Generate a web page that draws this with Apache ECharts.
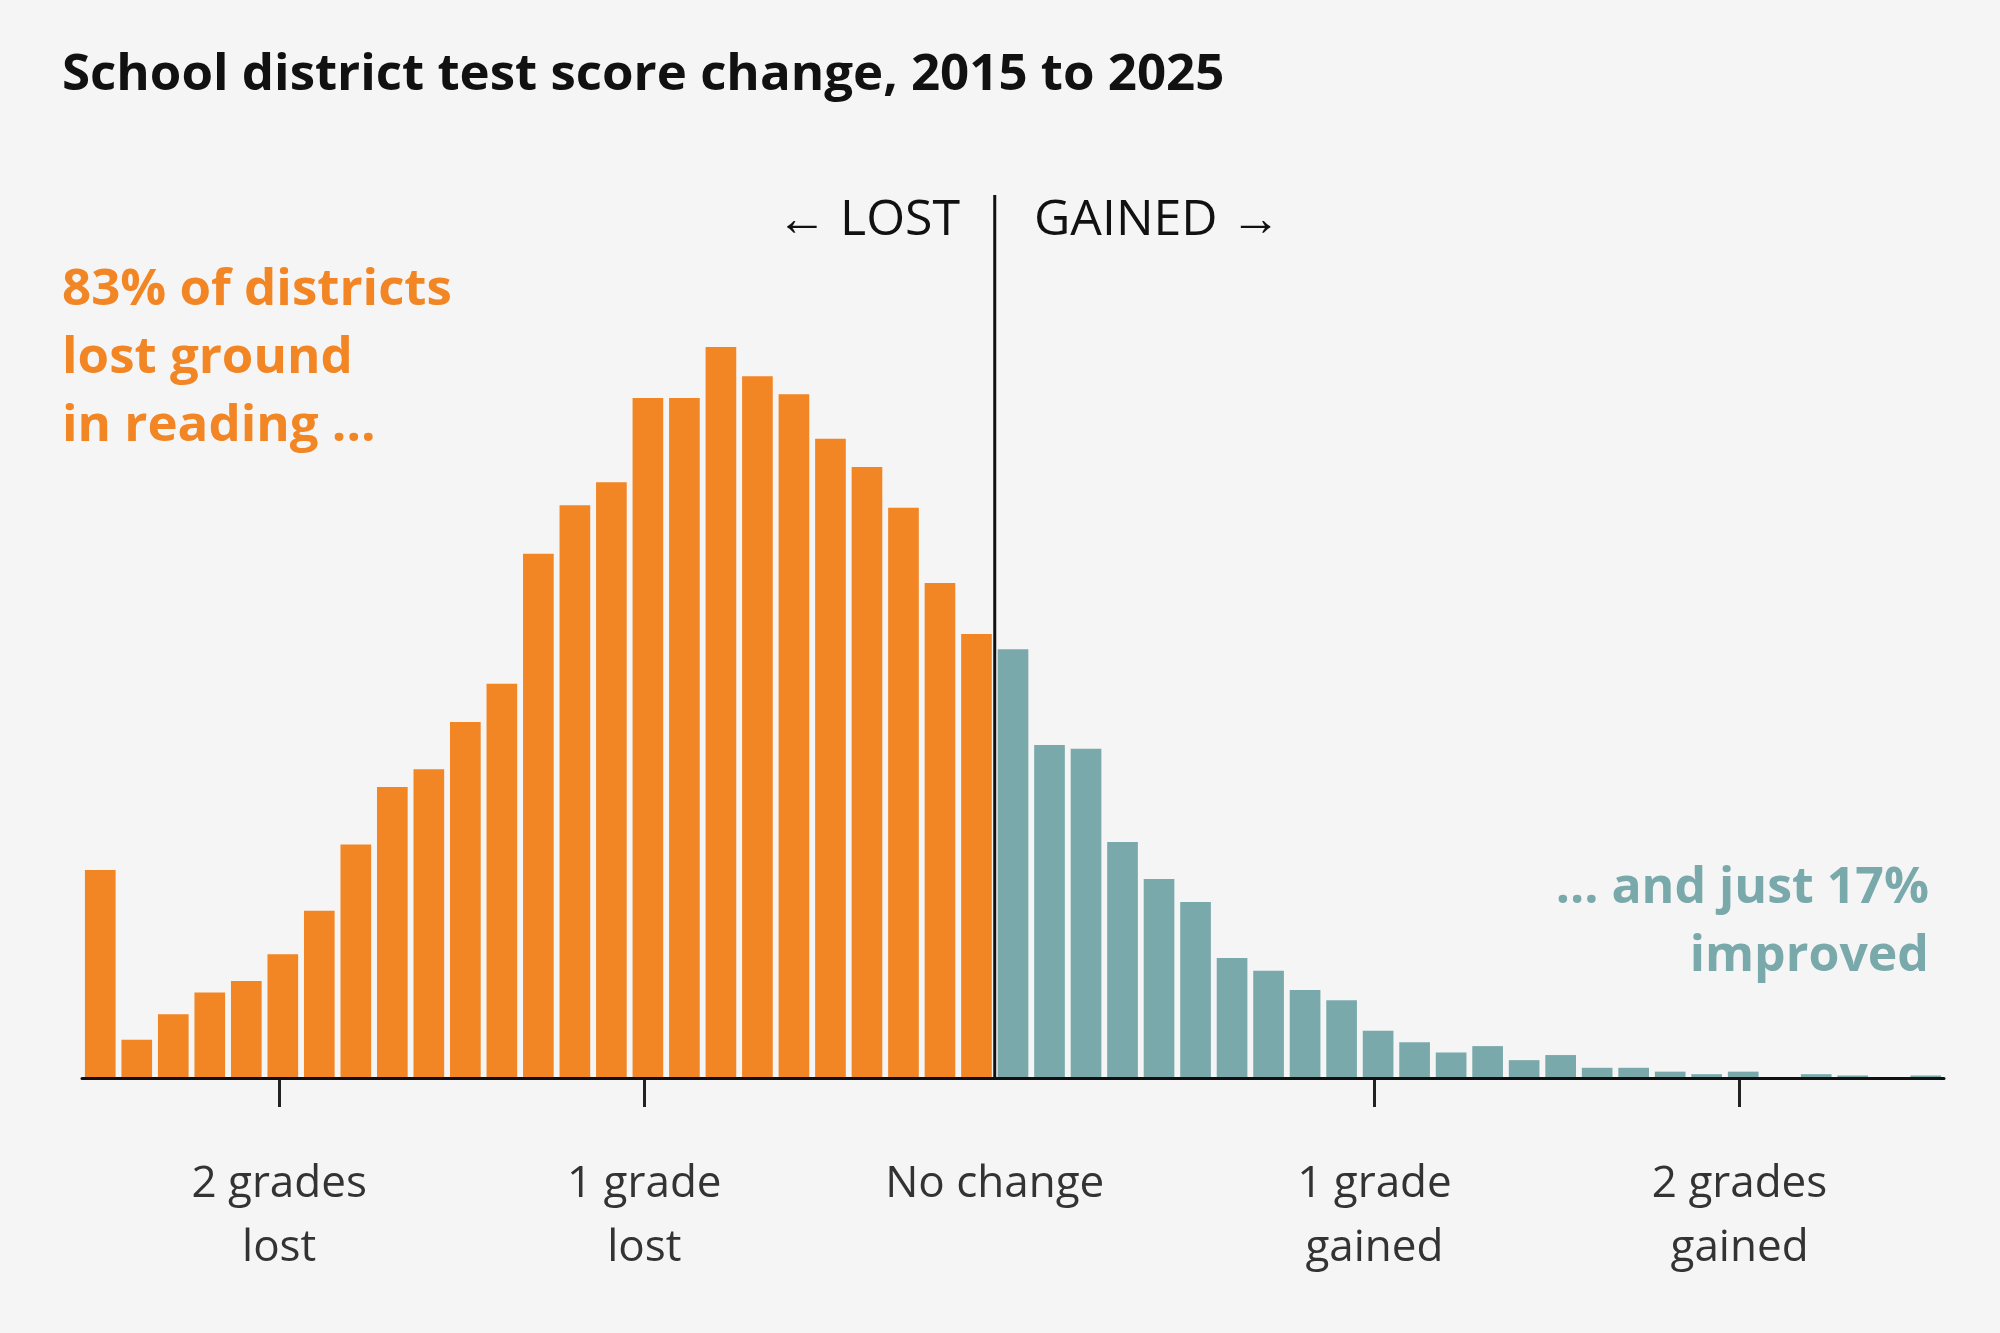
<!DOCTYPE html>
<html>
<head>
<meta charset="utf-8">
<script src="https://cdn.jsdelivr.net/npm/echarts@6/dist/echarts.min.js"></script>
<style>
  html, body { margin: 0; padding: 0; background: #f5f5f5; }
  #chart { width: 2000px; height: 1333px; }
</style>
</head>
<body>
<div id="chart"></div>
<script>
// bins of 0.1 grade, from -2.5 to +2.6 (relative heights)
const lostValues = [163, 30, 50, 67, 76, 97, 131, 183, 228, 242, 279, 309, 411,
  449, 467, 533, 533, 573, 550, 536, 501, 479, 447, 388, 348];
const gainedValues = [336, 261, 258, 185, 156, 138, 94, 84, 69, 61, 37, 28, 20,
  25, 14, 18, 8, 8, 5, 3, 5, 0, 3, 2, 0, 2];
const tickValues = [-19.6, -9.6, 10.4, 20.4];
const labelValues = [-19.6, -9.6, 0, 10.4, 20.4];
const labelTexts = ["2 grades\nlost", "1 grade\nlost", "No change", "1 grade\ngained", "2 grades\ngained"];

const orange = "#f28524";
const teal = "#7aa9ab";
const categories = [];
const barData = [];
lostValues.forEach((v, i) => {
  categories.push("l" + i);
  barData.push({ value: v, itemStyle: { color: orange } });
});
gainedValues.forEach((v, i) => {
  categories.push("g" + i);
  barData.push({ value: v, itemStyle: { color: teal } });
});

const font = "'Open Sans', 'Liberation Sans', sans-serif";

let options = {
  backgroundColor: "#f5f5f5",
  animation: false,
  grid: { left: 82, right: 56, top: 287, bottom: 255 },
  xAxis: [
    {
      type: "category",
      data: categories,
      axisLine: { lineStyle: { color: "#111", width: 3 } },
      axisTick: { show: false },
      axisLabel: { show: false },
      z: 5
    },
    {
      type: "value",
      position: "bottom",
      min: -25,
      max: 26,
      splitLine: { show: false },
      axisLine: { show: false },
      axisTick: {
        show: true,
        customValues: tickValues,
        length: 29,
        lineStyle: { color: "#222", width: 3 }
      },
      axisLabel: {
        customValues: labelValues,
        formatter: v => {
          const i = labelValues.findIndex(x => Math.abs(x - v) < 0.01);
          return i >= 0 ? labelTexts[i] : "";
        },
        margin: 74,
        fontFamily: font,
        fontSize: 44,
        lineHeight: 64,
        color: "#333"
      }
    }
  ],
  yAxis: { type: "value", min: 0, max: 620, show: false, splitLine: { show: false } },
  series: [
    {
      type: "bar",
      data: barData,
      barCategoryGap: "16%",
      xAxisIndex: 0
    }
  ],
  graphic: [
    { type: "text", left: 62, top: 50, style: { text: "School district test score change, 2015 to 2025",
      font: "bold 51px " + font, fill: "#111" } },
    { type: "text", right: 1040, top: 196, style: { text: "← LOST", font: "50px " + font, fill: "#111" } },
    { type: "text", left: 1034, top: 196, style: { text: "GAINED →", font: "50px " + font, fill: "#111" } },
    { type: "text", left: 62, top: 256, style: { text: "83% of districts\nlost ground\nin reading ...",
      font: "bold 51px " + font, lineHeight: 68, fill: orange } },
    { type: "text", right: 71, top: 864, style: { text: "... and just 17%",
      font: "bold 50px " + font, fill: teal } },
    { type: "text", right: 71, top: 932, style: { text: "improved",
      font: "bold 50px " + font, fill: teal } }
  ]
};

let chart = echarts.init(document.getElementById("chart"));
chart.setOption(options);
const x0 = chart.convertToPixel({ xAxisIndex: 1 }, 0);
chart.setOption({
  graphic: options.graphic.concat([{
    type: "line", z: 10,
    shape: { x1: x0, y1: 195, x2: x0, y2: 1078 },
    style: { stroke: "#111", lineWidth: 3 }
  }])
});
</script>
</body>
</html>
